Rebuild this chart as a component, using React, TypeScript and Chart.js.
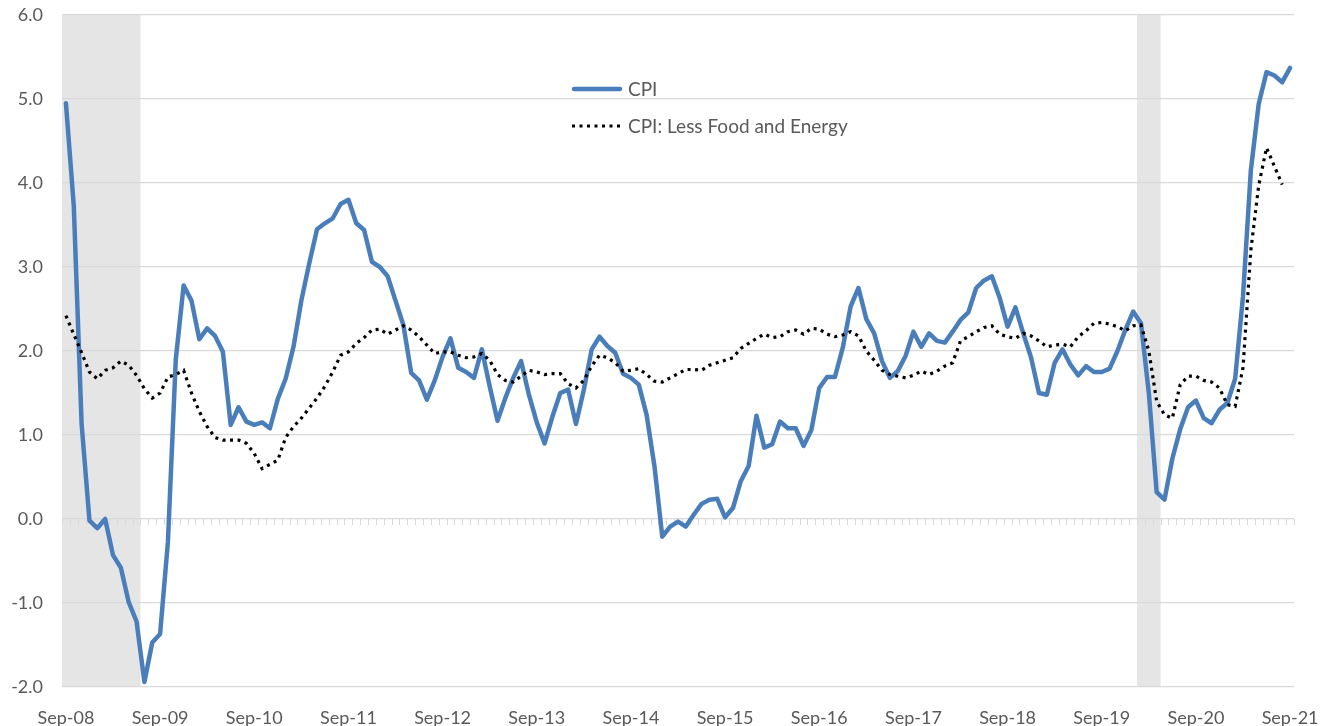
import React, { useEffect, useRef } from 'react';
import { Chart, registerables } from 'chart.js';

Chart.register(...registerables);

const MONTHS = ['Jan', 'Feb', 'Mar', 'Apr', 'May', 'Jun', 'Jul', 'Aug', 'Sep', 'Oct', 'Nov', 'Dec'];
const FIRST_YEAR = 2008;
const FIRST_MONTH = 8; // Sep
const LAST_YEAR = 2021;
const LAST_MONTH = 8; // Sep

const CATEGORIES: string[] = [];
for (let y = FIRST_YEAR; y <= LAST_YEAR; y++) {
  for (let m = 0; m < 12; m++) {
    if (y === FIRST_YEAR && m < FIRST_MONTH) continue;
    if (y === LAST_YEAR && m > LAST_MONTH) break;
    CATEGORIES.push(`${MONTHS[m]}-${String(y % 100).padStart(2, '0')}`);
  }
}

const TICK_LABELS = [
  'Sep-08', 'Sep-09', 'Sep-10', 'Sep-11', 'Sep-12', 'Sep-13', 'Sep-14',
  'Sep-15', 'Sep-16', 'Sep-17', 'Sep-18', 'Sep-19', 'Sep-20', 'Sep-21',
];

const CPI = [
  4.95, 3.73, 1.13, -0.02, -0.11, 0.0, -0.43, -0.58, -0.99, -1.22,
  -1.94, -1.47, -1.37, -0.27, 1.9, 2.78, 2.6, 2.14, 2.27, 2.18,
  1.99, 1.12, 1.33, 1.16, 1.12, 1.15, 1.08, 1.43, 1.67, 2.05,
  2.6, 3.04, 3.45, 3.52, 3.58, 3.75, 3.8, 3.52, 3.44, 3.06,
  3.0, 2.89, 2.6, 2.31, 1.74, 1.65, 1.42, 1.65, 1.93, 2.15,
  1.8, 1.75, 1.68, 2.02, 1.58, 1.17, 1.44, 1.68, 1.88, 1.48,
  1.15, 0.9, 1.22, 1.5, 1.54, 1.13, 1.54, 2.02, 2.17, 2.06,
  1.98, 1.73, 1.68, 1.6, 1.24, 0.63, -0.21, -0.09, -0.03, -0.09,
  0.05, 0.18, 0.23, 0.24, 0.02, 0.13, 0.45, 0.63, 1.23, 0.85,
  0.89, 1.16, 1.08, 1.08, 0.87, 1.06, 1.56, 1.69, 1.69, 2.04,
  2.53, 2.75, 2.38, 2.21, 1.88, 1.68, 1.76, 1.94, 2.23, 2.05,
  2.21, 2.12, 2.1, 2.23, 2.37, 2.46, 2.75, 2.84, 2.89, 2.63,
  2.29, 2.52, 2.21, 1.92, 1.5, 1.48, 1.86, 2.02, 1.84, 1.71,
  1.82, 1.75, 1.75, 1.79, 2.0, 2.25, 2.47, 2.33, 1.5, 0.32,
  0.23, 0.72, 1.07, 1.33, 1.41, 1.2, 1.14, 1.3, 1.38, 1.67,
  2.65, 4.15, 4.94, 5.32, 5.28, 5.2, 5.37,
];

const CORE = [
  2.42, 2.2, 1.98, 1.75, 1.67, 1.77, 1.8, 1.88, 1.83, 1.71,
  1.55, 1.44, 1.5, 1.69, 1.72, 1.77, 1.5, 1.28, 1.1, 0.97,
  0.94, 0.94, 0.94, 0.9, 0.78, 0.6, 0.65, 0.7, 0.97, 1.1,
  1.2, 1.32, 1.44, 1.58, 1.75, 1.95, 1.99, 2.09, 2.16, 2.25,
  2.26, 2.2, 2.25, 2.3, 2.25, 2.17, 2.07, 1.97, 1.99, 1.99,
  1.95, 1.92, 1.93, 1.97, 1.89, 1.72, 1.65, 1.63, 1.7, 1.77,
  1.75, 1.72, 1.73, 1.73, 1.61, 1.56, 1.65, 1.82, 1.95, 1.92,
  1.86, 1.76, 1.77, 1.79, 1.72, 1.64, 1.63, 1.68, 1.73, 1.78,
  1.78, 1.77, 1.83, 1.86, 1.89, 1.92, 2.03, 2.09, 2.15, 2.2,
  2.16, 2.17, 2.23, 2.25, 2.2, 2.27, 2.26, 2.2, 2.17, 2.19,
  2.23, 2.18, 2.0, 1.89, 1.77, 1.72, 1.7, 1.68, 1.71, 1.76,
  1.72, 1.76, 1.82, 1.86, 2.12, 2.17, 2.23, 2.28, 2.3, 2.2,
  2.17, 2.15, 2.21, 2.18, 2.12, 2.05, 2.07, 2.08, 2.05, 2.17,
  2.24, 2.33, 2.34, 2.32, 2.29, 2.24, 2.3, 2.31, 2.0, 1.4,
  1.24, 1.2, 1.6, 1.7, 1.7, 1.65, 1.63, 1.56, 1.36, 1.34,
  1.8, 3.2, 3.97, 4.42, 4.2, 3.98, null,
];

const RECESSION_STARTS = ['Sep-08', 'Feb-20'];
const RECESSION_ENDS = ['Jun-09', 'Apr-20'];

const SERIES_NAMES = ['CPI', 'CPI: Less Food and Energy'];

const FONT = 'Lato, "Liberation Sans", sans-serif';
const TEXT = '#595959';
const GRID = '#d9d9d9';
const BLUE = '#4a7ebb';
const SHADE = '#e5e5e5';
const CORE_DASH = [3, 4.5];

const recessionPlugin = {
  id: 'recessions',
  beforeDraw(chart: any) {
    const { ctx, chartArea, scales } = chart;
    const x = scales.x;
    const half = (x.getPixelForValue(1) - x.getPixelForValue(0)) / 2;
    ctx.save();
    ctx.fillStyle = SHADE;
    RECESSION_STARTS.forEach((s, i) => {
      const a = Math.max(chartArea.left, x.getPixelForValue(CATEGORIES.indexOf(s)) - half);
      const b = Math.min(chartArea.right, x.getPixelForValue(CATEGORIES.indexOf(RECESSION_ENDS[i])) + half);
      ctx.fillRect(a, chartArea.top, b - a, chartArea.bottom - chartArea.top);
    });
    ctx.restore();
  },
};

const zeroTicksPlugin = {
  id: 'zeroTicks',
  beforeDatasetsDraw(chart: any) {
    const { ctx, scales } = chart;
    const x = scales.x;
    const y = scales.y;
    const step = x.getPixelForValue(1) - x.getPixelForValue(0);
    const start = x.getPixelForValue(0) - step / 2;
    const y0 = y.getPixelForValue(0);
    ctx.save();
    ctx.strokeStyle = GRID;
    ctx.lineWidth = 1;
    ctx.beginPath();
    for (let i = 0; i <= CATEGORIES.length; i++) {
      const px = Math.round(start + i * step) + 0.5;
      ctx.moveTo(px, y0);
      ctx.lineTo(px, y0 + 6);
    }
    ctx.stroke();
    ctx.restore();
  },
};

const legendPlugin = {
  id: 'customLegend',
  afterDraw(chart: any, _args: any, opts: any) {
    const { ctx } = chart;
    const { x, y, rowGap, sampleWidth, textGap } = opts;
    ctx.save();
    ctx.font = `19px ${FONT}`;
    ctx.fillStyle = TEXT;
    ctx.textBaseline = 'middle';
    // CPI sample
    ctx.strokeStyle = BLUE;
    ctx.lineWidth = 4.5;
    ctx.lineCap = 'round';
    ctx.beginPath();
    ctx.moveTo(x + 2, y);
    ctx.lineTo(x + sampleWidth - 2, y);
    ctx.stroke();
    ctx.fillText(SERIES_NAMES[0], x + sampleWidth + textGap, y + 1);
    // Core sample
    ctx.strokeStyle = '#000';
    ctx.lineWidth = 3.2;
    ctx.lineCap = 'butt';
    ctx.setLineDash(CORE_DASH);
    ctx.beginPath();
    ctx.moveTo(x, y + rowGap);
    ctx.lineTo(x + sampleWidth, y + rowGap);
    ctx.stroke();
    ctx.setLineDash([]);
    ctx.fillText(SERIES_NAMES[1], x + sampleWidth + textGap, y + rowGap + 1);
    ctx.restore();
  },
};

export default function App() {
  const canvasRef = useRef<HTMLCanvasElement | null>(null);

  useEffect(() => {
    let chart: Chart | null = null;
    let cancelled = false;
    const make = () => {
      if (cancelled || !canvasRef.current) return;
      chart = new Chart(canvasRef.current, {
        type: 'line',
        data: {
          labels: CATEGORIES,
          datasets: [
            {
              label: SERIES_NAMES[0],
              data: CPI,
              borderColor: BLUE,
              borderWidth: 4.5,
              pointRadius: 0,
              tension: 0,
              borderJoinStyle: 'round',
              borderCapStyle: 'round',
              order: 1,
            },
            {
              label: SERIES_NAMES[1],
              data: CORE,
              borderColor: '#000000',
              borderWidth: 3.2,
              borderDash: CORE_DASH,
              pointRadius: 0,
              tension: 0,
              order: 0,
            },
          ],
        },
        options: {
          animation: false,
          responsive: false,
          maintainAspectRatio: false,
          layout: { padding: { left: 0, right: 27, top: 15, bottom: 0 } },
          plugins: {
            legend: { display: false },
            tooltip: { enabled: false },
            customLegend: { x: 572, y: 89, rowGap: 37, sampleWidth: 50, textGap: 6 },
          } as any,
          scales: {
            x: {
              type: 'category',
              offset: true,
              grid: { display: false },
              border: { display: false },
              ticks: {
                autoSkip: false,
                maxRotation: 0,
                minRotation: 0,
                padding: 12,
                color: TEXT,
                font: { family: FONT, size: 18 },
                callback: (_v: any, i: number) =>
                  TICK_LABELS.includes(CATEGORIES[i]) ? CATEGORIES[i] : '',
              },
              afterFit: (scale: any) => {
                scale.height = 39;
                scale.paddingLeft = 0;
                scale.paddingRight = 0;
              },
            },
            y: {
              min: -2,
              max: 6,
              grid: { color: GRID, lineWidth: 1.3, drawTicks: false },
              border: { display: false },
              ticks: {
                stepSize: 1,
                padding: 19,
                color: TEXT,
                font: { family: FONT, size: 18 },
                callback: (v: any) => Number(v).toFixed(1),
              },
              afterFit: (scale: any) => {
                scale.width = 62;
                scale.paddingTop = 0;
                scale.paddingBottom = 0;
              },
            },
          },
        },
        plugins: [recessionPlugin, zeroTicksPlugin, legendPlugin],
      } as any);
    };
    const fonts = (document as any).fonts;
    if (fonts && fonts.load) {
      fonts.load(`18px Lato`).then(make, make);
    } else {
      make();
    }
    return () => {
      cancelled = true;
      if (chart) chart.destroy();
    };
  }, []);

  return (
    <div style={{ position: 'absolute', left: 0, top: 0, width: 1321, height: 726, background: '#fff' }}>
      <canvas ref={canvasRef} width={1321} height={726} style={{ display: 'block' }} />
    </div>
  );
}
